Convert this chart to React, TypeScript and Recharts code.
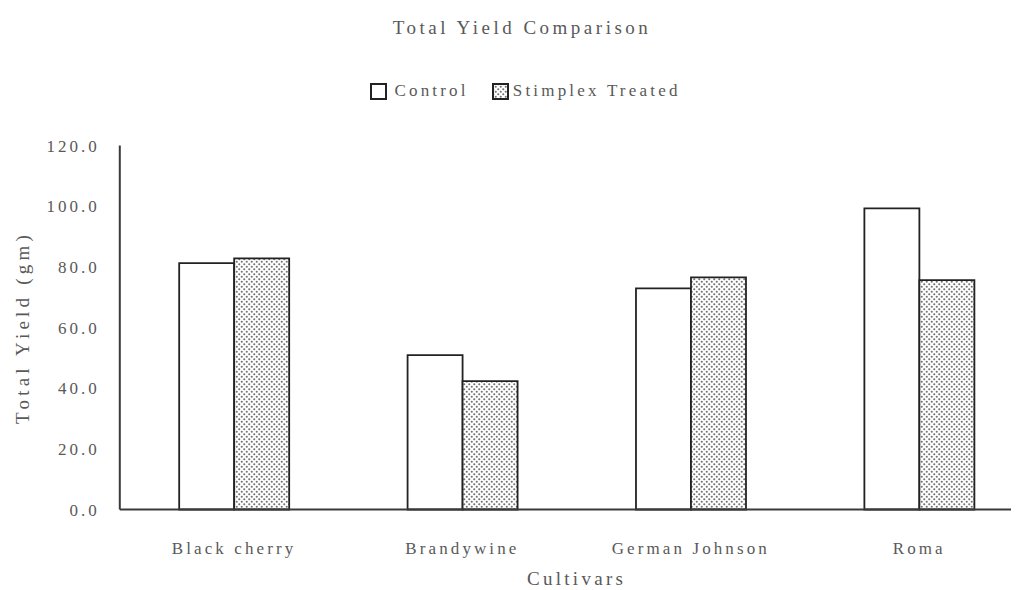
import React from 'react';
import { BarChart, Bar, XAxis, YAxis, Legend, Label } from 'recharts';

const categories = ['Black cherry', 'Brandywine', 'German Johnson', 'Roma'];
const controlValues = [81.2, 50.9, 72.9, 99.3];
const stimplexValues = [82.8, 42.3, 76.5, 75.6];
const yTicks = [0, 20, 40, 60, 80, 100, 120];

const data = categories.map((c, i) => ({
  name: c,
  control: controlValues[i],
  stimplex: stimplexValues[i],
}));

const FONT = '"Liberation Serif", "Times New Roman", serif';
const TEXT = '#595959';
const AXIS = '#3a3a3a';
const BAR_STROKE = '#222222';

const DotPattern = ({ id }: { id: string }) => (
  <pattern id={id} patternUnits="userSpaceOnUse" width="5" height="5">
    <rect x="0" y="0" width="5" height="5" fill="#ffffff" />
    <circle cx="1.25" cy="1.25" r="1.05" fill="#727272" />
    <circle cx="3.75" cy="3.75" r="1.05" fill="#727272" />
  </pattern>
);

const LegendContent = () => (
  <div
    style={{
      display: 'flex',
      justifyContent: 'center',
      alignItems: 'center',
      fontFamily: FONT,
      fontSize: 17,
      letterSpacing: 3.2,
      color: TEXT,
      height: 22,
    }}
  >
    <svg width="17" height="17" style={{ marginRight: 7 }}>
      <rect x="1" y="1" width="15" height="15" fill="#fff" stroke={BAR_STROKE} strokeWidth="2" />
    </svg>
    <span style={{ marginRight: 23 }}>Control</span>
    <svg width="17" height="17" style={{ marginRight: 4 }}>
      <defs>
        <DotPattern id="dotsLegend" />
      </defs>
      <rect x="1" y="1" width="15" height="15" fill="url(#dotsLegend)" stroke={BAR_STROKE} strokeWidth="2" />
    </svg>
    <span>Stimplex Treated</span>
  </div>
);

const YLabel = (props: any) => {
  const vb = props.viewBox || {};
  const cx = 14;
  const cy = (vb.y || 0) + (vb.height || 0) / 2;
  return (
    <text
      x={cx}
      y={cy}
      transform={`rotate(-90, ${cx}, ${cy})`}
      textAnchor="middle"
      dominantBaseline="central"
      fill={TEXT}
      fontFamily={FONT}
      fontSize={19}
      letterSpacing={4.2}
    >
      Total Yield (gm)
    </text>
  );
};

export default function App() {
  return (
    <div style={{ position: 'relative', width: 1011, height: 582, overflow: 'hidden' }}>
      <div
        style={{
          position: 'absolute',
          left: 0,
          top: 8,
          width: 1028,
          textAlign: 'center',
          fontFamily: FONT,
          fontSize: 19,
          letterSpacing: 3.5,
          color: TEXT,
          lineHeight: '24px',
          zIndex: 2,
        }}
      >
        Total Yield Comparison
      </div>
      <BarChart
        width={1040}
        height={582}
        data={data}
        margin={{ top: 137.5, right: 14.6, bottom: 5.5, left: 0 }}
        barCategoryGap="26%"
        barGap={0}
      >
        <defs>
          <DotPattern id="dots" />
        </defs>
        <XAxis
          dataKey="name"
          height={75}
          tickSize={0}
          tickLine={false}
          tickMargin={32}
          axisLine={{ stroke: AXIS, strokeWidth: 2 }}
          tick={{ fill: TEXT, fontSize: 17, fontFamily: FONT, letterSpacing: 3.1 }}
          interval={0}
        >
          <Label
            value="Cultivars"
            position="insideBottom"
            offset={0}
            fill={TEXT}
            fontSize={19}
            fontFamily={FONT}
            letterSpacing={3.3}
          />
        </XAxis>
        <YAxis
          width={111.8}
          domain={[0, 120]}
          ticks={yTicks}
          interval={0}
          tickFormatter={(v: number) => v.toFixed(1)}
          tickSize={0}
          tickLine={false}
          tickMargin={20}
          axisLine={{ stroke: AXIS, strokeWidth: 2 }}
          tick={{ fill: TEXT, fontSize: 17, fontFamily: FONT, letterSpacing: 3 }}
        >
          <Label content={<YLabel />} />
        </YAxis>
        <Legend
          verticalAlign="middle"
          align="center"
          layout="horizontal"
          content={<LegendContent />}
          wrapperStyle={{ top: 72, left: 0, width: 1035, height: 22 }}
        />
        <Bar
          dataKey="control"
          name="Control"
          fill="#ffffff"
          stroke={BAR_STROKE}
          strokeWidth={1.8}
          isAnimationActive={false}
        />
        <Bar
          dataKey="stimplex"
          name="Stimplex Treated"
          fill="url(#dots)"
          stroke={BAR_STROKE}
          strokeWidth={1.8}
          isAnimationActive={false}
        />
      </BarChart>
    </div>
  );
}
